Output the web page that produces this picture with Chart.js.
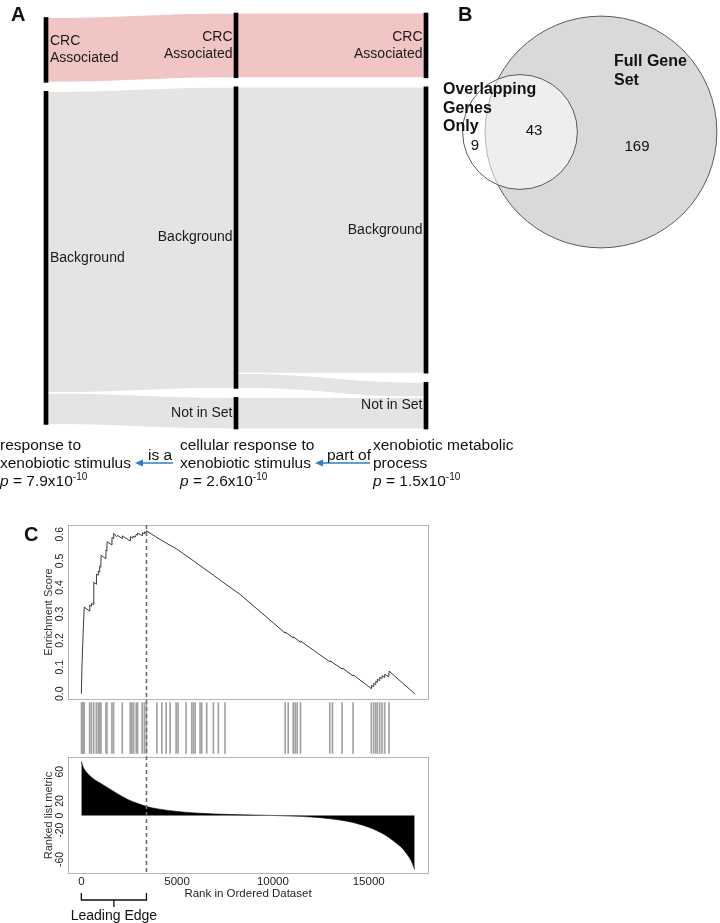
<!DOCTYPE html>
<html>
<head>
<meta charset="utf-8">
<script src="https://cdn.jsdelivr.net/npm/chart.js@4.4.0/dist/chart.umd.min.js"></script>
<style>
  body { margin: 0; background: #fff; font-family: "Liberation Sans", Arial, sans-serif; color: #111; }
  #fig { position: relative; width: 720px; height: 923px; overflow: hidden; }
  canvas, .abs { position: absolute; }
  .letter { font-weight: bold; font-size: 20px; line-height: 22px; }
  .term { font-size: 15.5px; line-height: 18px; white-space: nowrap; }
  .rel { font-size: 15.5px; line-height: 18px; white-space: nowrap; }
  sup { font-size: 10px; vertical-align: 6px; line-height: 0; }
</style>
</head>
<body>
<div id="fig">
  <canvas id="sankey" width="460" height="440" style="left:0;top:0;width:460px;height:440px"></canvas>
  <canvas id="venn" width="280" height="270" style="left:440px;top:0;width:280px;height:270px"></canvas>
  <canvas id="gsea" width="720" height="418" style="left:0;top:505px;width:720px;height:418px"></canvas>

  <div class="abs letter" style="left:11px;top:3px">A</div>
  <div class="abs letter" style="left:458px;top:3px">B</div>
  <div class="abs letter" style="left:24px;top:523px">C</div>

  <div class="abs term" style="left:0;top:436px">response to<br>xenobiotic stimulus<br><i>p</i> = 7.9x10<sup>-10</sup></div>
  <div class="abs term" style="left:180px;top:436px">cellular response to<br>xenobiotic stimulus<br><i>p</i> = 2.6x10<sup>-10</sup></div>
  <div class="abs term" style="left:373px;top:436px">xenobiotic metabolic<br>process<br><i>p</i> = 1.5x10<sup>-10</sup></div>
  <div class="abs rel" style="left:148px;top:446px">is a</div>
  <div class="abs rel" style="left:327px;top:446px">part of</div>
  <svg class="abs" style="left:0;top:455px" width="460" height="16">
    <line x1="173" y1="8" x2="141" y2="8" stroke="#2f7cc4" stroke-width="1.5"/>
    <polygon points="135,8 143,4.5 143,11.5" fill="#2f7cc4"/>
    <line x1="370" y1="8" x2="321" y2="8" stroke="#2f7cc4" stroke-width="1.5"/>
    <polygon points="315,8 323,4.5 323,11.5" fill="#2f7cc4"/>
  </svg>
</div>

<script>
// ---- Panel A: gene counts per GO term (columns) and category (nodes)
const sankeyNodes = ["CRC Associated", "Background", "Not in Set"];
const col1Values = [43, 221, 0];
const col2Values = [43, 200, 21];
const col3Values = [43, 190, 31];
// flows between neighbouring columns: from column, source node, target node, genes
const flowFromCol = [0, 0, 0, 1, 1, 1, 1];
const flowSource = [0, 1, 1, 0, 1, 1, 2];
const flowTarget = [0, 1, 2, 0, 1, 2, 2];
const flowGenes = [43, 200, 21, 43, 190, 10, 21];

// ---- Panel B: Venn counts (only overlapping, both, only full set)
const vennLabels = ["Overlapping Genes Only", "Full Gene Set"];
const vennCounts = [9, 43, 169];

// ---- Panel C: GSEA running enrichment score
const esRank = [0, 40, 90, 150, 430, 440, 520, 530, 640, 650, 780, 790, 880, 890, 950, 960, 1020, 1030,
  1280, 1290, 1330, 1345, 1590, 1600, 1680, 1690, 1840, 1900, 2130, 2140, 2460, 2550, 2560, 2690, 2700,
  2810, 2870, 2930, 2940, 3070, 3180, 3190, 3290, 3300, 3385, 3400, 3940, 4430, 4950, 5470, 6200, 6900,
  7500, 8280, 10640, 10650, 11060, 11070, 11440, 11450, 12970, 12980, 13610, 13620, 14180, 14190, 15139,
  15145, 15255, 15265, 15360, 15370, 15445, 15455, 15570, 15578, 15690, 15698, 15830, 15838, 16055,
  16062, 17400];
const esScore = [0, 0.12, 0.22, 0.326, 0.311, 0.333, 0.329, 0.34, 0.335, 0.42, 0.412, 0.45, 0.446, 0.462,
  0.458, 0.48, 0.476, 0.521, 0.508, 0.54, 0.537, 0.572, 0.56, 0.588, 0.584, 0.604, 0.591, 0.596, 0.584,
  0.594, 0.579, 0.575, 0.591, 0.586, 0.593, 0.589, 0.6, 0.597, 0.604, 0.599, 0.595, 0.606, 0.602, 0.609,
  0.606, 0.613, 0.588, 0.567, 0.546, 0.52, 0.482, 0.446, 0.414, 0.374, 0.228, 0.232, 0.21, 0.214, 0.194,
  0.198, 0.12, 0.124, 0.093, 0.097, 0.067, 0.071, 0.019, 0.032, 0.026, 0.039, 0.034, 0.047, 0.043, 0.055,
  0.049, 0.062, 0.056, 0.068, 0.061, 0.073, 0.064, 0.085, 0];
const hitRanks = [10, 45, 80, 115, 150, 434, 521, 642, 781, 885, 955, 1024, 1285, 1337, 1597, 1684, 2135,
  2552, 2639, 2726, 2865, 2934, 3177, 3290, 3395, 3941, 4201, 4427, 4635, 4948, 5052, 5469, 5764, 5851,
  5938, 6198, 6285, 6545, 6892, 7153, 7500, 10642, 10799, 11059, 11163, 11267, 11441, 12969, 13108,
  13611, 14184, 15139, 15260, 15365, 15451, 15573, 15694, 15833, 16059];
const metricRank = [0, 100, 250, 500, 750, 1000, 1500, 2000, 2500, 3000, 3440, 4000, 5000, 6000, 7000,
  8000, 9000, 10000, 11000, 12000, 13000, 14000, 15000, 15600, 16000, 16500, 16800, 17000, 17200, 17300, 17400];
const metricValue = [74, 66, 60, 53, 48, 44, 36, 28, 21, 16, 12, 9, 5.5, 3.3, 2, 1.2, 0.6, 0.1, -0.8, -2,
  -4.5, -8.5, -16, -23, -29, -39, -46, -53, -61, -67, -74];
const leadingEdgeRank = 3400;
const esTicks = [0, 0.1, 0.2, 0.3, 0.4, 0.5, 0.6];
const metricTicks = [60, 20, 0, -20, -60];
const rankTicks = [0, 5000, 10000, 15000];

const FONT = '"Liberation Sans", Arial, sans-serif';
Chart.defaults.font.family = FONT;
Chart.defaults.animation = false;
Chart.defaults.responsive = false;
Chart.defaults.devicePixelRatio = 1;
Chart.defaults.events = [];
Chart.defaults.plugins.legend.display = false;
Chart.defaults.plugins.tooltip.enabled = false;

// ================= Panel A: alluvial diagram =================
const NODE_GAP = 6;
const columns = [col1Values, col2Values, col3Values];
const colTotals = columns.map(vals => {
  const used = vals.filter(v => v > 0);
  return used.reduce((s, v) => s + v, 0) + NODE_GAP * (used.length - 1);
});
const maxTotal = Math.max(...colTotals);
const nodePos = columns.map((vals, c) => {
  let y = (maxTotal - colTotals[c]) / 2;
  return vals.map(v => {
    if (v <= 0) return null;
    const p = { start: y, end: y + v };
    y += v + NODE_GAP;
    return p;
  });
});
const nodeBars = [];
nodePos.forEach((col, c) => col.forEach(p => { if (p) nodeBars.push({ x: c, y: [p.start, p.end] }); }));

const flowPlugin = {
  id: 'flows',
  beforeDatasetsDraw(chart) {
    const { ctx, scales: { x, y } } = chart;
    const outUsed = nodePos.map(col => col.map(p => (p ? p.start : 0)));
    const inUsed = nodePos.map(col => col.map(p => (p ? p.start : 0)));
    ctx.save();
    flowGenes.forEach((v, i) => {
      const c = flowFromCol[i], s = flowSource[i], t = flowTarget[i];
      const s0 = outUsed[c][s], t0 = inUsed[c + 1][t];
      outUsed[c][s] += v;
      inUsed[c + 1][t] += v;
      const x0 = x.getPixelForValue(c), x1 = x.getPixelForValue(c + 1), xm = (x0 + x1) / 2;
      const a0 = y.getPixelForValue(s0), b0 = y.getPixelForValue(s0 + v);
      const a1 = y.getPixelForValue(t0), b1 = y.getPixelForValue(t0 + v);
      ctx.beginPath();
      ctx.moveTo(x0, a0);
      ctx.bezierCurveTo(xm, a0, xm, a1, x1, a1);
      ctx.lineTo(x1, b1);
      ctx.bezierCurveTo(xm, b1, xm, b0, x0, b0);
      ctx.closePath();
      ctx.fillStyle = s === 0 ? '#f1c5c4' : '#e4e4e3';
      ctx.fill();
      ctx.strokeStyle = '#ffffff';
      ctx.lineWidth = 1.2;
      ctx.stroke();
    });
    ctx.restore();
  },
  afterDatasetsDraw(chart) {
    const { ctx, scales: { x, y } } = chart;
    ctx.save();
    ctx.font = '14px ' + FONT;
    ctx.fillStyle = '#1a1a1a';
    ctx.textBaseline = 'middle';
    nodePos.forEach((col, c) => col.forEach((p, n) => {
      if (!p) return;
      const words = sankeyNodes[n] === 'CRC Associated' ? ['CRC', 'Associated'] : [sankeyNodes[n]];
      const mid = y.getPixelForValue((p.start + p.end) / 2);
      const px = x.getPixelForValue(c);
      ctx.textAlign = c === 0 ? 'left' : 'right';
      const tx = c === 0 ? px + 4 : px - 3.5;
      words.forEach((w, k) => ctx.fillText(w, tx, mid + (k - (words.length - 1) / 2) * 17));
    }));
    ctx.restore();
  }
};

new Chart(document.getElementById('sankey'), {
  type: 'bar',
  data: { datasets: [{ data: nodeBars, backgroundColor: '#000', barThickness: 4, clip: false }] },
  options: {
    layout: { autoPadding: false, padding: { left: 46, right: 34, top: 13, bottom: 11 } },
    scales: {
      x: { type: 'linear', min: 0, max: 2, offset: false, display: false },
      y: { type: 'linear', min: 0, max: maxTotal, reverse: true, display: false }
    }
  },
  plugins: [flowPlugin]
});

// ================= Panel B: area-proportional Venn =================
const PX2_PER_GENE = 199;
const smallSet = vennCounts[0] + vennCounts[1];
const fullSet = vennCounts[1] + vennCounts[2];
const rSmall = Math.sqrt(smallSet * PX2_PER_GENE / Math.PI);
const rFull = Math.sqrt(fullSet * PX2_PER_GENE / Math.PI);
function lensArea(d, r1, r2) {
  if (d >= r1 + r2) return 0;
  if (d <= Math.abs(r1 - r2)) return Math.PI * Math.min(r1, r2) ** 2;
  const a = r1 * r1 * Math.acos((d * d + r1 * r1 - r2 * r2) / (2 * d * r1));
  const b = r2 * r2 * Math.acos((d * d + r2 * r2 - r1 * r1) / (2 * d * r2));
  const k = 0.5 * Math.sqrt((-d + r1 + r2) * (d + r1 - r2) * (d - r1 + r2) * (d + r1 + r2));
  return a + b - k;
}
let lo = Math.abs(rFull - rSmall), hi = rFull + rSmall;
const target = vennCounts[1] * PX2_PER_GENE;
for (let i = 0; i < 60; i++) {
  const mid = (lo + hi) / 2;
  if (lensArea(mid, rSmall, rFull) > target) lo = mid; else hi = mid;
}
const centreDist = (lo + hi) / 2;
const fullCentre = { x: 161, y: 132 };
const smallCentre = { x: fullCentre.x - centreDist, y: fullCentre.y };

const vennText = {
  id: 'vennText',
  afterDatasetsDraw(chart) {
    const { ctx, scales: { x, y } } = chart;
    const S = { x: x.getPixelForValue(smallCentre.x), y: y.getPixelForValue(smallCentre.y) };
    const B = { x: x.getPixelForValue(fullCentre.x), y: y.getPixelForValue(fullCentre.y) };
    ctx.save();
    ctx.fillStyle = '#111';
    ctx.textBaseline = 'middle';
    ctx.textAlign = 'left';
    ctx.font = 'bold 16px ' + FONT;
    ['Overlapping', 'Genes', 'Only'].forEach((w, k) => ctx.fillText(w, S.x - 77, S.y - 42 + k * 18.5));
    ['Full Gene', 'Set'].forEach((w, k) => ctx.fillText(w, B.x + 13, B.y - 70 + k * 18.5));
    ctx.font = '15px ' + FONT;
    ctx.textAlign = 'center';
    ctx.fillText(String(vennCounts[0]), S.x - 45, S.y + 14);
    ctx.fillText(String(vennCounts[1]), S.x + 14, S.y - 1);
    ctx.fillText(String(vennCounts[2]), B.x + 36, B.y + 15);
    ctx.restore();
  }
};

new Chart(document.getElementById('venn'), {
  type: 'bubble',
  data: {
    datasets: [
      { label: vennLabels[0], data: [{ x: smallCentre.x, y: smallCentre.y, r: rSmall }],
        backgroundColor: 'rgba(255,255,255,0.55)', borderColor: '#5a5a5a', borderWidth: 1 },
      { label: vennLabels[1], data: [{ x: fullCentre.x, y: fullCentre.y, r: rFull }],
        backgroundColor: '#d9d9d9', borderColor: '#5a5a5a', borderWidth: 1 }
    ]
  },
  options: {
    layout: { autoPadding: false, padding: 0 },
    clip: false,
    scales: {
      x: { type: 'linear', min: 0, max: 280, display: false },
      y: { type: 'linear', min: 0, max: 270, reverse: true, display: false }
    }
  },
  plugins: [vennText]
});

// ================= Panel C: GSEA plot =================
function vText(ctx, text, px, py) {
  ctx.save();
  ctx.translate(px, py);
  ctx.rotate(-Math.PI / 2);
  ctx.fillText(text, 0, 0);
  ctx.restore();
}

const gseaDecor = {
  id: 'gseaDecor',
  afterDatasetsDraw(chart) {
    const { ctx, chartArea: a, scales } = chart;
    const x = scales.x, yES = scales.yES, yRank = scales.yRank;
    ctx.save();
    ctx.strokeStyle = '#b5b5b5';
    ctx.lineWidth = 1;
    ctx.strokeRect(a.left + 0.5, Math.round(yES.top) + 0.5, a.right - a.left, Math.round(yES.bottom - yES.top));
    ctx.strokeRect(a.left + 0.5, Math.round(yRank.top) + 0.5, a.right - a.left, Math.round(yRank.bottom - yRank.top) - 1);

    const lx = Math.round(x.getPixelForValue(leadingEdgeRank)) + 0.5;
    ctx.setLineDash([4, 3]);
    ctx.strokeStyle = '#6e6e6e';
    ctx.lineWidth = 1.6;
    ctx.beginPath();
    ctx.moveTo(lx, yES.top);
    ctx.lineTo(lx, yRank.bottom);
    ctx.stroke();
    ctx.setLineDash([]);

    ctx.fillStyle = '#222';
    ctx.textAlign = 'center';
    ctx.textBaseline = 'middle';
    ctx.font = '10.5px ' + FONT;
    esTicks.forEach(v => vText(ctx, v.toFixed(1), a.left - 7.5, yES.getPixelForValue(v)));
    metricTicks.forEach(v => vText(ctx, String(v), a.left - 7.5, yRank.getPixelForValue(v)));
    ctx.font = '11px ' + FONT;
    ctx.fillStyle = '#333';
    vText(ctx, 'Enrichment Score', a.left - 19, (yES.top + yES.bottom) / 2);
    vText(ctx, 'Ranked list metric', a.left - 19, (yRank.top + yRank.bottom) / 2);

    ctx.fillStyle = '#222';
    ctx.font = '11.5px ' + FONT;
    rankTicks.forEach(v => ctx.fillText(String(v), x.getPixelForValue(v), yRank.bottom + 8));
    ctx.fillText('Rank in Ordered Dataset', (a.left + a.right) / 2, yRank.bottom + 20);

    // leading edge bracket
    const bx0 = x.getPixelForValue(0), bx1 = x.getPixelForValue(leadingEdgeRank), bm = (bx0 + bx1) / 2;
    const by = yRank.bottom + 26;
    ctx.strokeStyle = '#111';
    ctx.lineWidth = 1.3;
    ctx.beginPath();
    ctx.moveTo(bx0, by - 7);
    ctx.lineTo(bx0, by);
    ctx.lineTo(bx1, by);
    ctx.lineTo(bx1, by - 7);
    ctx.moveTo(bm, by);
    ctx.lineTo(bm, by + 7);
    ctx.stroke();
    ctx.font = '14px ' + FONT;
    ctx.fillStyle = '#111';
    ctx.fillText('Leading Edge', bm, by + 16);
    ctx.restore();
  }
};

const fixedWidth = s => { s.width = 40; };
const hiddenAxis = { ticks: { display: false }, grid: { display: false, drawTicks: false }, border: { display: false } };

new Chart(document.getElementById('gsea'), {
  type: 'line',
  data: {
    datasets: [
      { label: 'Enrichment score', data: esRank.map((r, i) => ({ x: r, y: esScore[i] })), yAxisID: 'yES',
        borderColor: '#3a3a3a', borderWidth: 1, pointRadius: 0, tension: 0, fill: false },
      { type: 'bar', label: 'Hits', data: hitRanks.map(r => ({ x: r, y: 1 })), yAxisID: 'yHits',
        backgroundColor: '#a2a2a2', barThickness: 1 },
      { label: 'Ranked list metric', data: metricRank.map((r, i) => ({ x: r, y: metricValue[i] })), yAxisID: 'yRank',
        borderColor: '#000', backgroundColor: '#000', borderWidth: 0.6, pointRadius: 0,
        cubicInterpolationMode: 'monotone', fill: 'origin' }
    ]
  },
  options: {
    layout: { autoPadding: false, padding: { left: 28, right: 292, top: 20, bottom: 0 } },
    scales: {
      x: { type: 'linear', min: -696, max: 18096, offset: false, ...hiddenAxis,
        afterBuildTicks: s => { s.ticks = rankTicks.map(v => ({ value: v })); },
        afterFit: s => { s.height = 49; } },
      yRank: { type: 'linear', position: 'left', stack: 'gsea', stackWeight: 117, min: -80, max: 80,
        ...hiddenAxis, afterFit: fixedWidth },
      yHits: { type: 'linear', position: 'left', stack: 'gsea', stackWeight: 58, min: -0.07, max: 1.07,
        ...hiddenAxis, afterFit: fixedWidth },
      yES: { type: 'linear', position: 'left', stack: 'gsea', stackWeight: 174, min: -0.02, max: 0.635,
        ...hiddenAxis, afterFit: fixedWidth }
    }
  },
  plugins: [gseaDecor]
});
</script>
</body>
</html>
